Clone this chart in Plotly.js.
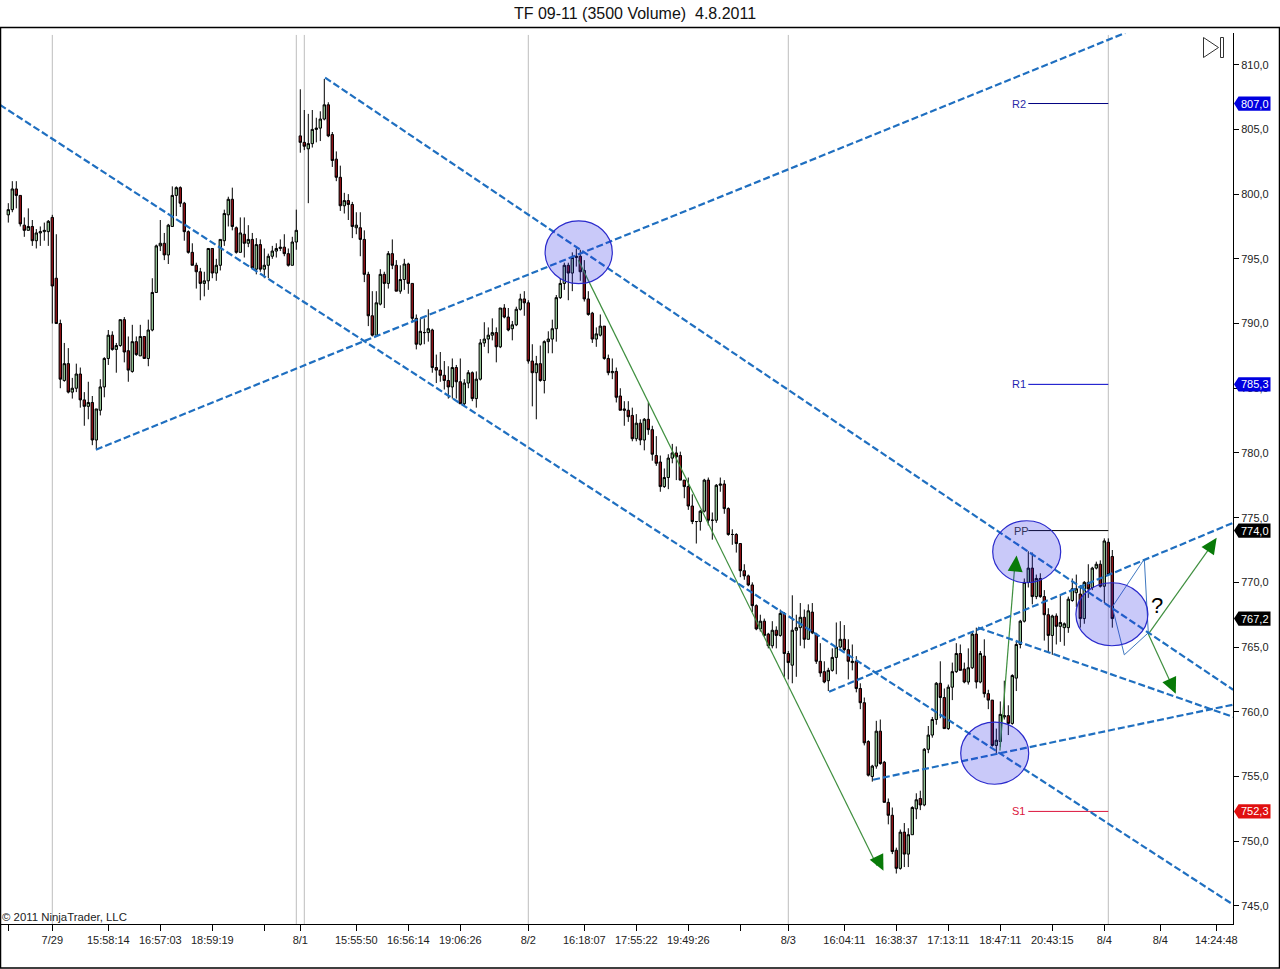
<!DOCTYPE html>
<html>
<head>
<meta charset="utf-8">
<script src="https://cdn.plot.ly/plotly-3.0.1.min.js"></script>
<style>html,body{margin:0;padding:0;background:#fff}#chart{width:1280px;height:969px}</style>
</head>
<body>
<div id="chart"></div>
<script>
const highs=[
799.3,801.0,801.0,799.9,798.2,798.9,798.0,797.3,797.5,797.8,
798.0,798.4,796.9,790.3,788.5,788.1,785.8,786.9,786.6,784.7,
785.5,784.4,783.4,785.7,787.4,789.5,789.4,788.5,790.3,790.5,
789.0,789.9,789.0,789.9,789.0,790.3,793.5,796.1,798.0,797.0,
797.7,800.6,800.6,800.6,799.4,797.2,796.2,794.7,794.3,794.0,
795.8,795.8,795.0,796.5,798.8,799.8,800.5,797.5,798.2,798.2,
797.6,797.0,796.6,796.5,795.8,795.4,796.0,796.2,796.5,796.9,
795.8,796.7,798.8,808.1,806.5,806.2,806.5,805.9,806.4,808.9,
807.1,804.8,803.3,802.2,800.1,800.0,799.4,798.6,798.6,797.2,
794.0,792.5,792.5,794.2,794.0,795.6,796.5,794.9,794.5,795.0,
794.7,793.1,790.7,790.4,790.4,791.1,789.6,787.6,787.8,787.1,
786.7,787.3,786.8,787.3,785.7,786.4,786.3,786.3,788.8,790.1,
789.7,790.4,789.7,791.2,791.5,791.2,790.2,791.3,792.3,792.5,
791.8,788.4,787.5,788.3,788.7,789.4,790.3,792.2,793.5,794.7,
794.7,795.5,795.8,795.7,794.9,792.5,790.9,789.7,790.7,789.8,
787.6,787.3,786.6,785.0,784.0,784.0,783.5,783.0,782.6,782.7,
783.9,782.1,781.3,779.8,778.8,779.9,780.7,780.5,780.1,777.9,
778.1,776.8,774.7,775.6,778.0,778.1,775.4,777.6,778.1,777.9,
775.8,774.1,773.8,773.0,771.4,770.6,770.0,768.3,767.5,767.2,
766.1,767.0,766.6,767.9,767.7,764.7,769.0,767.5,768.4,767.9,
768.3,768.4,766.1,765.3,763.9,763.4,764.9,766.9,767.0,766.7,
765.6,765.2,764.3,762.2,761.1,757.8,755.9,759.3,759.4,756.2,
753.3,752.6,749.5,750.9,751.4,751.0,752.7,753.7,753.9,757.2,
758.9,759.6,762.3,763.9,761.8,762.1,763.8,765.3,765.2,763.8,
764.9,766.2,766.5,764.7,765.6,761.7,760.9,758.7,760.8,762.4,
760.5,762.9,765.4,767.1,770.3,772.4,772.3,770.6,770.7,769.4,
768.0,767.5,767.6,769.0,766.9,768.9,770.3,770.6,769.8,770.1,
771.4,771.2,771.6,771.7,773.4,773.4,772.5];
const lows=[
797.8,798.6,798.9,797.5,796.7,797.2,796.0,795.8,796.0,796.4,
796.0,790.0,790.0,785.0,785.5,784.6,784.2,784.7,783.5,782.1,
782.6,780.6,780.3,782.9,784.3,786.8,787.9,786.2,788.2,787.0,
785.5,786.2,787.5,787.5,787.3,786.7,789.4,792.4,795.6,794.9,
794.6,797.5,798.3,799.0,796.4,795.4,794.5,792.7,791.8,792.1,
792.6,793.5,793.3,794.1,796.0,797.5,797.2,795.4,795.5,795.1,
795.9,794.2,793.8,794.0,793.5,793.5,795.0,795.1,795.6,795.2,
794.4,794.5,795.7,803.2,803.4,799.3,803.6,804.0,804.1,805.7,
804.4,802.1,801.0,798.7,798.5,798.0,796.6,796.9,795.2,793.2,
789.8,789.0,789.0,791.4,791.2,792.7,794.2,792.5,792.3,792.6,
792.3,790.1,788.0,788.3,788.4,788.6,786.2,785.4,785.5,784.9,
784.2,784.2,784.2,783.8,783.7,785.0,784.0,783.5,785.6,788.2,
787.7,788.7,787.0,788.1,790.4,789.4,788.7,789.8,791.0,790.6,
786.9,783.6,782.6,785.5,784.6,787.7,787.7,788.6,791.9,792.6,
791.8,792.5,794.4,793.3,791.7,790.6,788.5,788.2,789.0,787.2,
786.0,785.7,783.9,783.3,782.1,782.4,780.9,780.9,780.6,780.2,
781.4,779.4,779.0,777.0,777.3,777.2,779.2,777.9,777.9,776.5,
775.6,774.5,773.0,774.0,775.4,774.4,773.3,774.6,777.0,775.3,
773.6,772.9,772.3,770.4,770.2,769.7,767.7,766.3,766.2,765.8,
764.9,764.9,764.9,765.8,762.7,762.5,762.2,762.7,765.1,764.9,
765.6,766.0,763.7,762.7,762.2,761.6,763.1,762.9,764.9,764.7,
762.5,763.2,761.5,760.2,757.4,755.0,754.6,755.6,755.9,753.0,
751.3,749.0,747.5,747.8,748.0,748.0,750.5,751.7,752.4,752.7,
756.8,758.0,759.0,759.5,758.7,758.6,760.9,763.0,763.2,762.2,
762.1,763.3,761.8,762.2,761.1,760.2,757.3,756.8,757.3,759.4,
758.2,759.0,761.6,764.9,766.9,769.6,768.3,768.7,768.8,765.5,
764.6,764.4,765.2,765.4,765.1,766.1,768.5,768.1,766.5,766.8,
768.8,769.4,771.0,769.6,768.4,770.5,766.5];
const opens=[
798.4,798.8,800.4,799.9,797.6,797.2,797.5,796.4,797.0,797.1,
797.1,798.2,793.5,790.0,785.6,786.9,784.7,785.0,786.1,784.1,
783.6,783.9,781.0,783.3,785.1,787.3,789.1,788.0,788.3,790.3,
787.9,786.3,788.6,787.5,789.0,787.3,789.5,792.4,796.0,796.2,
795.3,797.5,799.9,800.5,799.3,797.1,795.5,794.5,794.0,793.1,
793.3,795.8,793.9,794.5,796.4,798.4,799.6,797.4,795.5,796.9,
796.2,796.5,794.2,796.1,794.2,794.5,795.2,795.6,795.8,795.9,
795.4,794.5,796.3,804.5,804.0,803.5,803.9,805.0,805.1,805.8,
806.9,804.6,802.7,801.3,799.1,799.5,799.2,797.4,797.4,796.5,
793.8,790.6,789.1,791.5,793.8,793.1,795.4,794.5,792.5,793.4,
794.6,793.1,790.4,788.4,789.3,789.3,789.5,786.6,786.4,786.0,
785.6,785.1,786.6,785.5,783.8,785.4,786.2,784.2,785.7,788.5,
788.8,789.1,789.3,788.2,791.2,790.5,789.6,789.9,791.1,791.9,
791.6,787.1,786.2,786.9,785.6,788.6,788.8,789.6,792.0,793.1,
794.5,793.9,795.1,795.2,794.1,791.9,790.8,788.8,789.1,789.8,
787.3,786.2,786.3,784.4,783.4,783.3,782.9,781.1,782.3,781.0,
782.6,781.8,779.8,779.3,777.4,778.1,779.6,780.0,779.8,777.9,
777.4,775.9,774.7,774.7,775.5,777.9,774.8,774.8,777.5,777.6,
775.7,773.7,773.7,773.0,770.9,770.5,769.8,768.2,766.4,767.0,
766.0,765.1,766.3,765.9,767.6,764.5,763.6,766.3,766.5,767.3,
765.6,767.7,766.0,763.9,763.1,762.4,763.2,764.2,765.0,765.6,
764.8,763.8,763.9,761.8,760.7,757.7,755.0,755.8,758.5,756.1,
753.0,752.0,749.3,747.9,750.7,749.0,750.5,752.5,753.3,752.8,
757.1,758.2,759.4,762.2,761.1,758.7,761.9,763.1,764.5,763.3,
762.3,763.4,766.0,762.3,764.3,761.4,760.9,757.4,757.7,759.6,
759.7,759.1,762.6,765.2,767.0,770.0,771.1,768.9,770.3,768.9,
767.5,765.9,767.4,766.6,766.5,766.5,768.6,769.2,769.1,767.2,
770.0,769.6,771.1,771.4,769.7,773.1,772.0];
const closes=[
798.8,800.4,799.9,797.7,797.2,797.5,796.4,797.0,797.1,797.2,
797.9,792.9,790.0,785.7,786.9,784.7,785.0,786.1,784.1,783.6,
783.9,781.0,783.4,785.1,787.3,789.1,788.0,788.3,790.3,787.8,
786.4,788.6,787.6,789.0,787.3,789.5,792.4,796.0,796.2,795.3,
797.6,799.9,800.5,799.3,797.1,795.5,794.5,794.0,793.1,793.3,
795.8,793.9,794.5,796.5,798.5,799.6,797.5,795.5,797.0,796.2,
796.5,794.3,796.1,794.2,794.5,795.2,795.6,795.8,795.9,795.4,
794.5,796.3,797.2,804.0,803.7,803.9,805.0,805.1,805.8,806.9,
804.5,802.6,801.3,799.1,799.5,799.2,797.5,797.6,796.5,793.8,
790.6,789.1,791.6,793.8,793.1,795.4,794.5,792.5,793.4,794.6,
793.1,790.4,788.4,789.4,789.3,789.6,786.6,786.4,786.0,785.6,
785.1,786.6,785.5,783.8,785.4,786.2,784.2,785.7,788.5,788.8,
789.1,789.3,788.2,791.2,790.5,789.5,789.9,791.1,791.9,791.6,
787.1,786.2,786.9,785.6,788.6,788.8,789.6,792.0,793.1,794.5,
793.9,795.1,795.2,794.0,791.9,790.7,788.8,789.2,789.8,787.3,
786.2,786.3,784.3,783.3,783.3,782.8,781.1,782.3,781.0,782.6,
781.8,779.9,779.2,777.4,778.1,779.6,780.0,779.7,777.9,777.4,
775.9,774.7,774.7,775.5,777.9,774.8,774.8,777.5,777.6,775.7,
773.7,773.7,773.0,770.9,770.5,769.8,768.2,766.4,767.0,765.9,
765.1,766.3,765.9,767.6,764.5,763.8,766.3,766.5,767.3,765.6,
767.8,766.1,763.9,763.0,762.3,763.2,764.2,765.0,765.6,764.8,
763.9,763.9,761.8,760.7,757.6,755.1,755.8,758.5,756.0,753.0,
752.0,749.2,747.9,750.7,749.0,750.5,752.6,753.2,752.8,757.1,
758.2,759.4,762.2,761.1,758.7,761.9,763.1,764.5,763.2,762.3,
763.4,766.0,762.3,764.5,761.4,760.9,757.4,757.8,759.8,759.7,
759.1,762.8,765.2,767.0,770.0,771.1,768.9,770.3,768.9,767.5,
765.9,767.4,766.6,766.9,766.8,768.7,769.5,769.5,767.2,770.0,
769.5,771.1,771.4,769.7,773.2,770.6,767.2];

// x axis ticks (bar number -> label)
const tickBars=[0,11,25,38,51,64,73,87,100,113,130,144,157,170,183,195,209,222,235,248,261,274,288,302];
const tickLabels=["","7/29","15:58:14","16:57:03","18:59:19","","8/1","15:55:50","16:56:14","19:06:26","8/2","16:18:07","17:55:22","19:49:26","","8/3","16:04:11","16:38:37","17:13:11","18:47:11","20:43:15","8/4","8/4","14:24:48"];
const sessionBars=[11,72,74,130,195,275];

// dashed trend lines: [bar, price, bar, price]
const trendA=[-2.1,806.9,306.2,745.1];
const trendB=[79.2,809.0,306.2,761.7];
const trendC=[21.9,780.25,279.2,812.45];
const trendD=[205.2,761.55,306.2,774.6];
const trendE=[242.4,766.5,306.2,759.6];
const trendF=[216.2,754.75,306.2,760.55];

// green forecast arrows: [bar, price, bar, price], head [bar, price], heading degrees
const arrow1=[142.5,794.9,217.2,748.1];
const arrow2=[247.9,757.0,251.7,771.6];
const arrow3=[285,766.0,300.9,772.9];
const arrow4=[285,766.0,291.7,761.5];
const headBars=[217.7,251.85,300.7,290.85];
const headPrices=[748.4,771.3,772.8,762.1];
const headAngles=[154,5,34,156];

// thin blue projection
const pathBars=[276,284,285,279,276];
const pathPrices=[768.1,771.8,766.1,764.4,768.1];

// ellipses: bar0, bar1, price0, price1
const circle1=[134.2,151,793.08,797.94];
const circle2=[246.1,263.1,769.97,774.76];
const circle3=[238.1,255.1,754.4,759.2];
const circle4=[266.9,284.9,765.1,769.97];

// pivots
const pivotNames=["R2","R1","PP","S1"];
const pivotPrices=[807.0,785.3,774.0,752.3];
const pivotColors=["#000080","#0000c8","#000000","#dc143c"];
const pivotTextColors=["#2a2aa8","#1f1fb0","#33335a","#dc143c"];

// axis price tags
const tagPrices=[807.0,785.3,774.0,767.2,752.3];
const tagLabels=["807,0","785,3","774,0","767,2","752,3"];
const tagColors=["#0000e0","#0000e0","#000000","#000000","#e01010"];

const LEFT=1,RIGHT=1233,TOP=33,BOTTOM=924;
const px=x=>(x-LEFT)/(RIGHT-LEFT);
const py=y=>(BOTTOM-y)/(BOTTOM-TOP);
const FONT='"Liberation Sans", Arial, sans-serif';
const bars=opens.map((_,i)=>i);
const X_RANGE=[-1.825,306.175],Y_RANGE=[743.6,812.45];
const pxPerBar=(RIGHT-LEFT)/(X_RANGE[1]-X_RANGE[0]);
const pxPerPrice=(BOTTOM-TOP)/(Y_RANGE[1]-Y_RANGE[0]);

const traces=[{
  type:'candlestick',x:bars,open:opens,high:highs,low:lows,close:closes,
  whiskerwidth:0,
  increasing:{line:{color:'#000000',width:1},fillcolor:'#90bf90'},
  decreasing:{line:{color:'#000000',width:1},fillcolor:'#8b0f14'},
  hoverinfo:'skip'
}];

[arrow1,arrow2,arrow3,arrow4].forEach(a=>traces.push({type:'scatter',mode:'lines',x:[a[0],a[2]],y:[a[1],a[3]],
  line:{color:'#3f8f3f',width:1.2},hoverinfo:'skip'}));
traces.push({type:'scatter',mode:'lines',x:pathBars,y:pathPrices,line:{color:'#3f78c0',width:1},hoverinfo:'skip'});

pivotPrices.forEach((p,i)=>traces.push({type:'scatter',mode:'lines',x:[255,275],y:[p,p],
  line:{color:pivotColors[i],width:1},hoverinfo:'skip'}));

[trendA,trendB,trendC,trendD,trendE,trendF].forEach(t=>traces.push({type:'scatter',mode:'lines',x:[t[0],t[2]],y:[t[1],t[3]],
  line:{color:'#1f6fc0',width:2.2,dash:'7px,3px'},hoverinfo:'skip'}));

const shapes=[];
sessionBars.forEach(b=>shapes.push({type:'line',layer:'below',xref:'x',yref:'y',x0:b,x1:b,y0:743.6,y1:812.3,line:{color:'#bdbdbd',width:1}}));
[circle1,circle2,circle3,circle4].forEach(c=>shapes.push({type:'circle',layer:'above',xref:'x',yref:'y',x0:c[0],x1:c[1],y0:c[2],y1:c[3],
  fillcolor:'rgba(40,40,230,0.25)',line:{color:'#2a2acc',width:1.2}}));
// arrow heads sit over the ellipses
headBars.forEach((b,i)=>{
  const a=headAngles[i]*Math.PI/180,s=Math.sin(a),c=Math.cos(a),p=headPrices[i];
  const pt=(along,side)=>`${b+(along*s+side*c)/pxPerBar},${p+(along*c-side*s)/pxPerPrice}`;
  shapes.push({type:'path',layer:'above',xref:'x',yref:'y',path:`M ${pt(10,0)} L ${pt(-6,7.5)} L ${pt(-6,-7.5)} Z`,fillcolor:'#087a08',line:{width:0}});
});
// frame and play icon
shapes.push({type:'rect',xref:'paper',yref:'paper',x0:px(0.5),x1:px(1279.5),y0:py(968),y1:py(27.5),line:{color:'#000',width:1.5},fillcolor:'rgba(0,0,0,0)'});
shapes.push({type:'path',xref:'paper',yref:'paper',path:`M ${px(1203.5)},${py(37.5)} L ${px(1203.5)},${py(57.5)} L ${px(1218.5)},${py(47.5)} Z`,line:{color:'#333',width:1},fillcolor:'#fff'});
shapes.push({type:'rect',xref:'paper',yref:'paper',x0:px(1220.5),x1:px(1223.5),y0:py(57.5),y1:py(37.5),line:{color:'#333',width:1},fillcolor:'#fff'});
// price tags
tagPrices.forEach((p,i)=>{const h=0.55;shapes.push({type:'path',layer:'above',xref:'paper',yref:'y',
  path:`M ${px(1234)},${p} L ${px(1238.5)},${p+h} L ${px(1270.5)},${p+h} L ${px(1270.5)},${p-h} L ${px(1238.5)},${p-h} Z`,
  fillcolor:tagColors[i],line:{width:0}});});

const annotations=[];
tagPrices.forEach((p,i)=>annotations.push({xref:'paper',yref:'y',x:px(1255),y:p,text:tagLabels[i],showarrow:false,
  xanchor:'center',yanchor:'middle',font:{family:FONT,size:11,color:'#fff'}}));
pivotNames.forEach((n,i)=>annotations.push({xref:'x',yref:'y',x:n==='PP'?253.2:252.6,y:pivotPrices[i],text:n,showarrow:false,
  xanchor:'center',yanchor:'middle',font:{family:FONT,size:11,color:pivotTextColors[i]}}));
annotations.push({xref:'x',yref:'y',x:287.2,y:768.2,text:'?',showarrow:false,xanchor:'center',yanchor:'middle',font:{family:FONT,size:22,color:'#000'}});
annotations.push({xref:'paper',yref:'paper',x:px(0),y:py(917),text:'© 2011 NinjaTrader, LLC',showarrow:false,xanchor:'left',yanchor:'middle',font:{family:FONT,size:11.4,color:'#222'}});

const layout={
  width:1280,height:969,
  margin:{l:LEFT,r:1280-RIGHT,t:TOP,b:969-BOTTOM,pad:0},
  paper_bgcolor:'#fff',plot_bgcolor:'#fff',
  showlegend:false,hovermode:false,separators:',.',
  boxgap:0.2,boxgroupgap:0.25,
  title:{text:'TF 09-11 (3500 Volume) \u00A04.8.2011',font:{family:FONT,size:16,color:'#111'},x:635/1280,xanchor:'center',y:1-13/969,yanchor:'middle',xref:'container',yref:'container'},
  xaxis:{type:'linear',range:X_RANGE,rangeslider:{visible:false},showgrid:false,zeroline:false,
    showline:true,linecolor:'#000',linewidth:1,ticks:'outside',ticklen:6,tickcolor:'#000',tickwidth:1,
    tickmode:'array',tickvals:tickBars,ticktext:tickLabels,tickangle:0,tickfont:{family:FONT,size:11,color:'#222'}},
  yaxis:{side:'right',range:Y_RANGE,showgrid:false,zeroline:false,
    showline:true,linecolor:'#000',linewidth:1,ticks:'outside',ticklen:5,tickcolor:'#000',tickwidth:1,
    tickmode:'linear',tick0:745,dtick:5,tickformat:'.1f',tickfont:{family:FONT,size:11,color:'#222'}},
  shapes,annotations
};
Plotly.newPlot('chart',traces,layout,{displayModeBar:false,staticPlot:true});
</script>
</body>
</html>
